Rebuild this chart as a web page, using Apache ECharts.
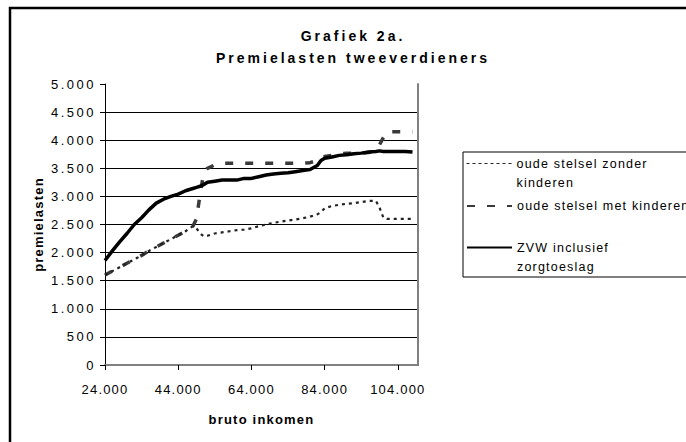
<!DOCTYPE html>
<html>
<head>
<meta charset="utf-8">
<script src="https://cdn.jsdelivr.net/npm/echarts@6/dist/echarts.min.js"></script>
<style>
  html, body { margin: 0; padding: 0; background: #fff; }
  #chart { width: 686px; height: 442px; }
  /* the Excel original draws its text wide, so space the svg letters a bit */
  #chart svg text { letter-spacing: 1.2px; }
  #chart svg text[style*="14px"] { letter-spacing: 3px; }
  #chart svg text[style*="Arial"] { letter-spacing: 2.5px; }
</style>
</head>
<body>
<div id="chart"></div>
<script>
// bruto inkomen
const incomes = [24000, 26000, 28000, 30000, 32000, 34000, 36000, 38000, 40000, 42000,
  44000, 46000, 48000, 49000, 50000, 51000, 52000, 54000, 56000, 58000,
  60000, 62000, 64000, 66000, 68000, 70000, 72000, 74000, 76000, 78000,
  80000, 82000, 83000, 84000, 86000, 88000, 90000, 92000, 94000, 96000,
  98000, 99000, 100000, 101000, 102000, 104000, 106000, 108000];

// premielasten per reeks
const zonderKinderen = [1600, 1670, 1740, 1810, 1880, 1950, 2030, 2100, 2170, 2240,
  2310, 2380, 2470, 2430, 2340, 2290, 2300, 2340, 2360, 2380,
  2400, 2410, 2430, 2470, 2500, 2530, 2550, 2570, 2590, 2610,
  2640, 2680, 2720, 2790, 2830, 2850, 2870, 2880, 2900, 2920,
  2920, 2800, 2630, 2600, 2600, 2600, 2600, 2600];

const metKinderen = [1600, 1670, 1740, 1810, 1880, 1950, 2030, 2100, 2170, 2240,
  2310, 2380, 2470, 2600, 3050, 3430, 3500, 3560, 3590, 3590,
  3590, 3590, 3590, 3590, 3590, 3590, 3590, 3590, 3590, 3590,
  3600, 3640, 3700, 3710, 3730, 3760, 3770, 3770, 3770, 3780,
  3820, 3920, 4040, 4150, 4150, 4150, 4150, 4150];

const zvwInclusief = [1860, 2030, 2190, 2340, 2500, 2620, 2760, 2880, 2950, 3000,
  3040, 3100, 3140, 3160, 3180, 3210, 3250, 3270, 3290, 3290,
  3290, 3320, 3320, 3350, 3380, 3400, 3410, 3420, 3440, 3460,
  3480, 3550, 3640, 3680, 3700, 3730, 3740, 3760, 3770, 3790,
  3800, 3810, 3800, 3800, 3800, 3800, 3800, 3790];

const incomeTicks = [24000, 44000, 64000, 84000, 104000];

const names = ['oude stelsel zonder kinderen', 'oude stelsel met kinderen', 'ZVW inclusief zorgtoeslag'];
// leading empty line keeps the first text line level with the legend line
const legendLabels = ['\noude stelsel zonder\nkinderen', 'oude stelsel met kinderen', '\nZVW inclusief\nzorgtoeslag'];

function dots(v) {
  return String(v).replace(/\B(?=(\d{3})+(?!\d))/g, '.');
}
function pairs(arr) {
  return incomes.map((x, i) => [x, arr[i]]);
}

const chart = echarts.init(document.getElementById('chart'), null, { renderer: 'svg' });

function legendItem(i, top, lineStyle) {
  const item = {
    data: [names[i]],
    left: 466,
    top: top,
    padding: 0,
    orient: 'vertical',
    selectedMode: false,
    itemWidth: 45,
    itemHeight: 12,
    itemStyle: { opacity: 0 },
    formatter: () => legendLabels[i],
    textStyle: {
      fontFamily: 'Liberation Sans',
      fontSize: 12.5,
      color: '#000',
      lineHeight: 19
    }
  };
  if (lineStyle) item.lineStyle = lineStyle;
  return item;
}

chart.setOption({
  animation: false,
  backgroundColor: '#fff',
  title: {
    text: 'Grafiek 2a.\nPremielasten tweeverdieners',
    left: 353,
    top: 25,
    textAlign: 'center',
    padding: 0,
    textStyle: {
      fontFamily: 'Liberation Sans',
      fontSize: 14,
      fontWeight: 'bold',
      color: '#000',
      lineHeight: 22
    }
  },
  graphic: [
    { // kader om de hele grafiek
      type: 'rect', z: -1,
      shape: { x: 10, y: 8, width: 700, height: 450 },
      style: { fill: 'none', stroke: '#000', lineWidth: 2.5 }
    },
    { // kader legenda
      type: 'rect', z: -1,
      shape: { x: 463, y: 152, width: 240, height: 125 },
      style: { fill: 'none', stroke: '#000', lineWidth: 1 }
    }
  ],
  legend: [
    legendItem(0, 135, { width: 1, type: [3, 3] }),
    legendItem(1, 196.5),
    legendItem(2, 219)
  ],
  grid: { left: 105, right: 268, top: 84, bottom: 77 },
  xAxis: [{
    type: 'value',
    min: 24000,
    max: 109500,
    interval: 20000,
    name: 'bruto inkomen',
    nameLocation: 'middle',
    nameGap: 48,
    nameTextStyle: { fontFamily: 'Liberation Sans', fontSize: 13, fontWeight: 'bold', color: '#000' },
    axisLine: { lineStyle: { color: '#000', width: 1 } },
    axisTick: { length: 5, customValues: incomeTicks, lineStyle: { color: '#000' } },
    axisLabel: {
      customValues: incomeTicks,
      margin: 18,
      fontFamily: 'Liberation Sans',
      fontSize: 13,
      color: '#000',
      formatter: dots
    },
    splitLine: { show: false }
  }, {
    // bovenrand van het plotvlak
    type: 'value', position: 'top', min: 24000, max: 109500,
    axisLine: { show: true, lineStyle: { color: '#808080', width: 2 } },
    axisTick: { show: false }, axisLabel: { show: false }, splitLine: { show: false }
  }],
  yAxis: [{
    type: 'value',
    min: 0,
    max: 5000,
    interval: 500,
    name: 'premielasten',
    nameLocation: 'middle',
    nameGap: 60,
    nameTextStyle: { fontFamily: 'Liberation Sans', fontSize: 13, fontWeight: 'bold', color: '#000' },
    axisLine: { show: true, lineStyle: { color: '#000', width: 1 } },
    axisTick: { show: true, length: 5, lineStyle: { color: '#000' } },
    axisLabel: {
      margin: 9,
      fontFamily: 'Arial',
      fontSize: 13,
      color: '#000',
      formatter: dots
    },
    splitLine: { show: true, showMaxLine: false, lineStyle: { color: '#000', width: 1 } }
  }, {
    // rechterrand van het plotvlak
    type: 'value', position: 'right', min: 0, max: 5000,
    axisLine: { show: true, lineStyle: { color: '#808080', width: 2 } },
    axisTick: { show: false }, axisLabel: { show: false }, splitLine: { show: false }
  }],
  series: [
    {
      name: names[0],
      type: 'line',
      data: pairs(zonderKinderen),
      symbol: 'none',
      z: 3,
      lineStyle: { color: '#222', width: 2.2, type: [3, 4] }
    },
    {
      name: names[1],
      type: 'line',
      data: pairs(metKinderen),
      symbol: 'none',
      z: 2,
      lineStyle: { color: '#3a3a3a', width: 3.5, type: [8, 12] }
    },
    {
      name: names[2],
      type: 'line',
      data: pairs(zvwInclusief),
      symbol: 'none',
      z: 4,
      lineStyle: { color: '#000', width: 3.5 }
    }
  ]
});
</script>
</body>
</html>
